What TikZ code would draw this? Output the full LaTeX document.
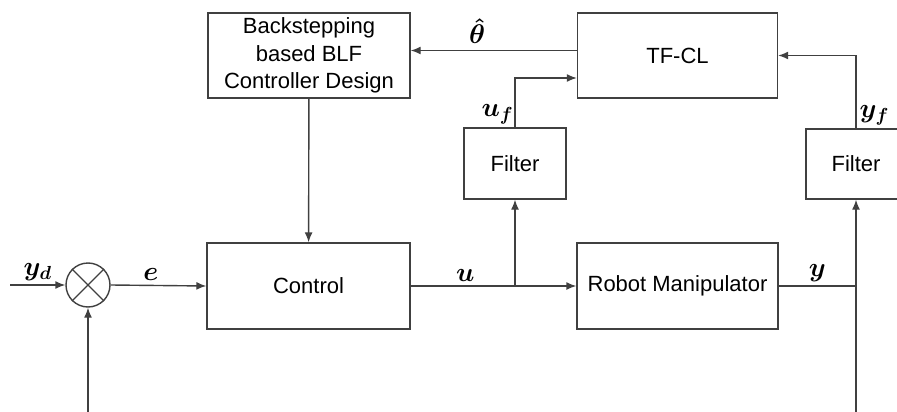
\documentclass[tikz,border=0pt]{standalone}
\usepackage{fix-cm}
\usepackage{fontspec}
\setsansfont{Liberation Sans}
\usepackage{tikz}
\usetikzlibrary{arrows.meta,positioning,calc}

\begin{document}
\begin{tikzpicture}[
      x=1pt,y=1pt,
      font=\sffamily\fontsize{22}{27.5}\selectfont,
      blk/.style={draw=black!75,line width=1.4pt,align=center,inner sep=2pt},
      ar/.style={-{Latex[length=10pt,width=8pt]},line width=1.4pt,draw=black!75},
      ln/.style={line width=1.4pt,draw=black!75},
      lbl/.style={font=\fontsize{27}{30}\selectfont\boldmath,inner sep=4pt},
    ]
    \useasboundingbox (0,0) rectangle (897,-412);

    % top row
    \node[blk,minimum width=202,minimum height=85] (design) at (309,-55.5)
      {Backstepping\\based BLF\\Controller Design};
    \node[blk,minimum width=200,minimum height=85] (tfcl) at (677.5,-55.5) {TF-CL};

    % filters
    \node[blk,minimum width=102,minimum height=71] (filtu) at (515,-163.5) {Filter};
    \node[blk,minimum width=100,minimum height=70] (filty) at (856,-164) {Filter};

    % main loop
    \node[draw=black!75,line width=1.4pt,circle,minimum size=44,inner sep=0pt] (sum) at (88,-285) {};
    \draw[ln] (sum.north west) -- (sum.south east);
    \draw[ln] (sum.north east) -- (sum.south west);
    \node[blk,minimum width=203,minimum height=86] (ctrl) at (308.5,-286) {Control};
    \node[blk,minimum width=201,minimum height=86] (robot) at (677.5,-286) {Robot Manipulator};

    \coordinate (yin) at (10,-285);
    \coordinate (fbl) at (88,-412);
    \coordinate (fbr) at (856,-412);
    \coordinate (ubr) at (ctrl.east -| filtu.south);
    \coordinate (ybr) at (robot.east -| filty.south);

    \draw[ar] (yin) -- node[lbl,above] {$y_d$} (sum.west);
    \draw[ar] (sum.east) -- node[lbl,above,pos=0.42] {$e$} (ctrl.west);
    \draw[ar] (ctrl.east) -- node[lbl,above,pos=0.33] {$u$} (robot.west);
    \draw[ar] (ubr) -- (filtu.south);
    \draw[ar] (filtu.north) |- ([yshift=-22.5pt]tfcl.west)
      node[lbl,pos=0,above left,xshift=3pt,yshift=-2pt] {$u_f$};
    \draw[ar] ([yshift=5pt]tfcl.west) -- node[lbl,above,pos=0.6,yshift=2pt] {$\hat{\theta}$}
      ([yshift=5pt]design.east);
    \draw[ar] (filty.north) |- (tfcl.east)
      node[lbl,pos=0,above right,xshift=-1pt,yshift=-2pt] {$y_f$};
    \draw[ar] (design) -- (ctrl);
    \draw[ln] (robot.east) -- node[lbl,above] {$y$} (ybr);
    \draw[ar] (fbr) -- (filty.south);
    \draw[ar] (fbl) -- (sum.south);
  \end{tikzpicture}
\end{document}
